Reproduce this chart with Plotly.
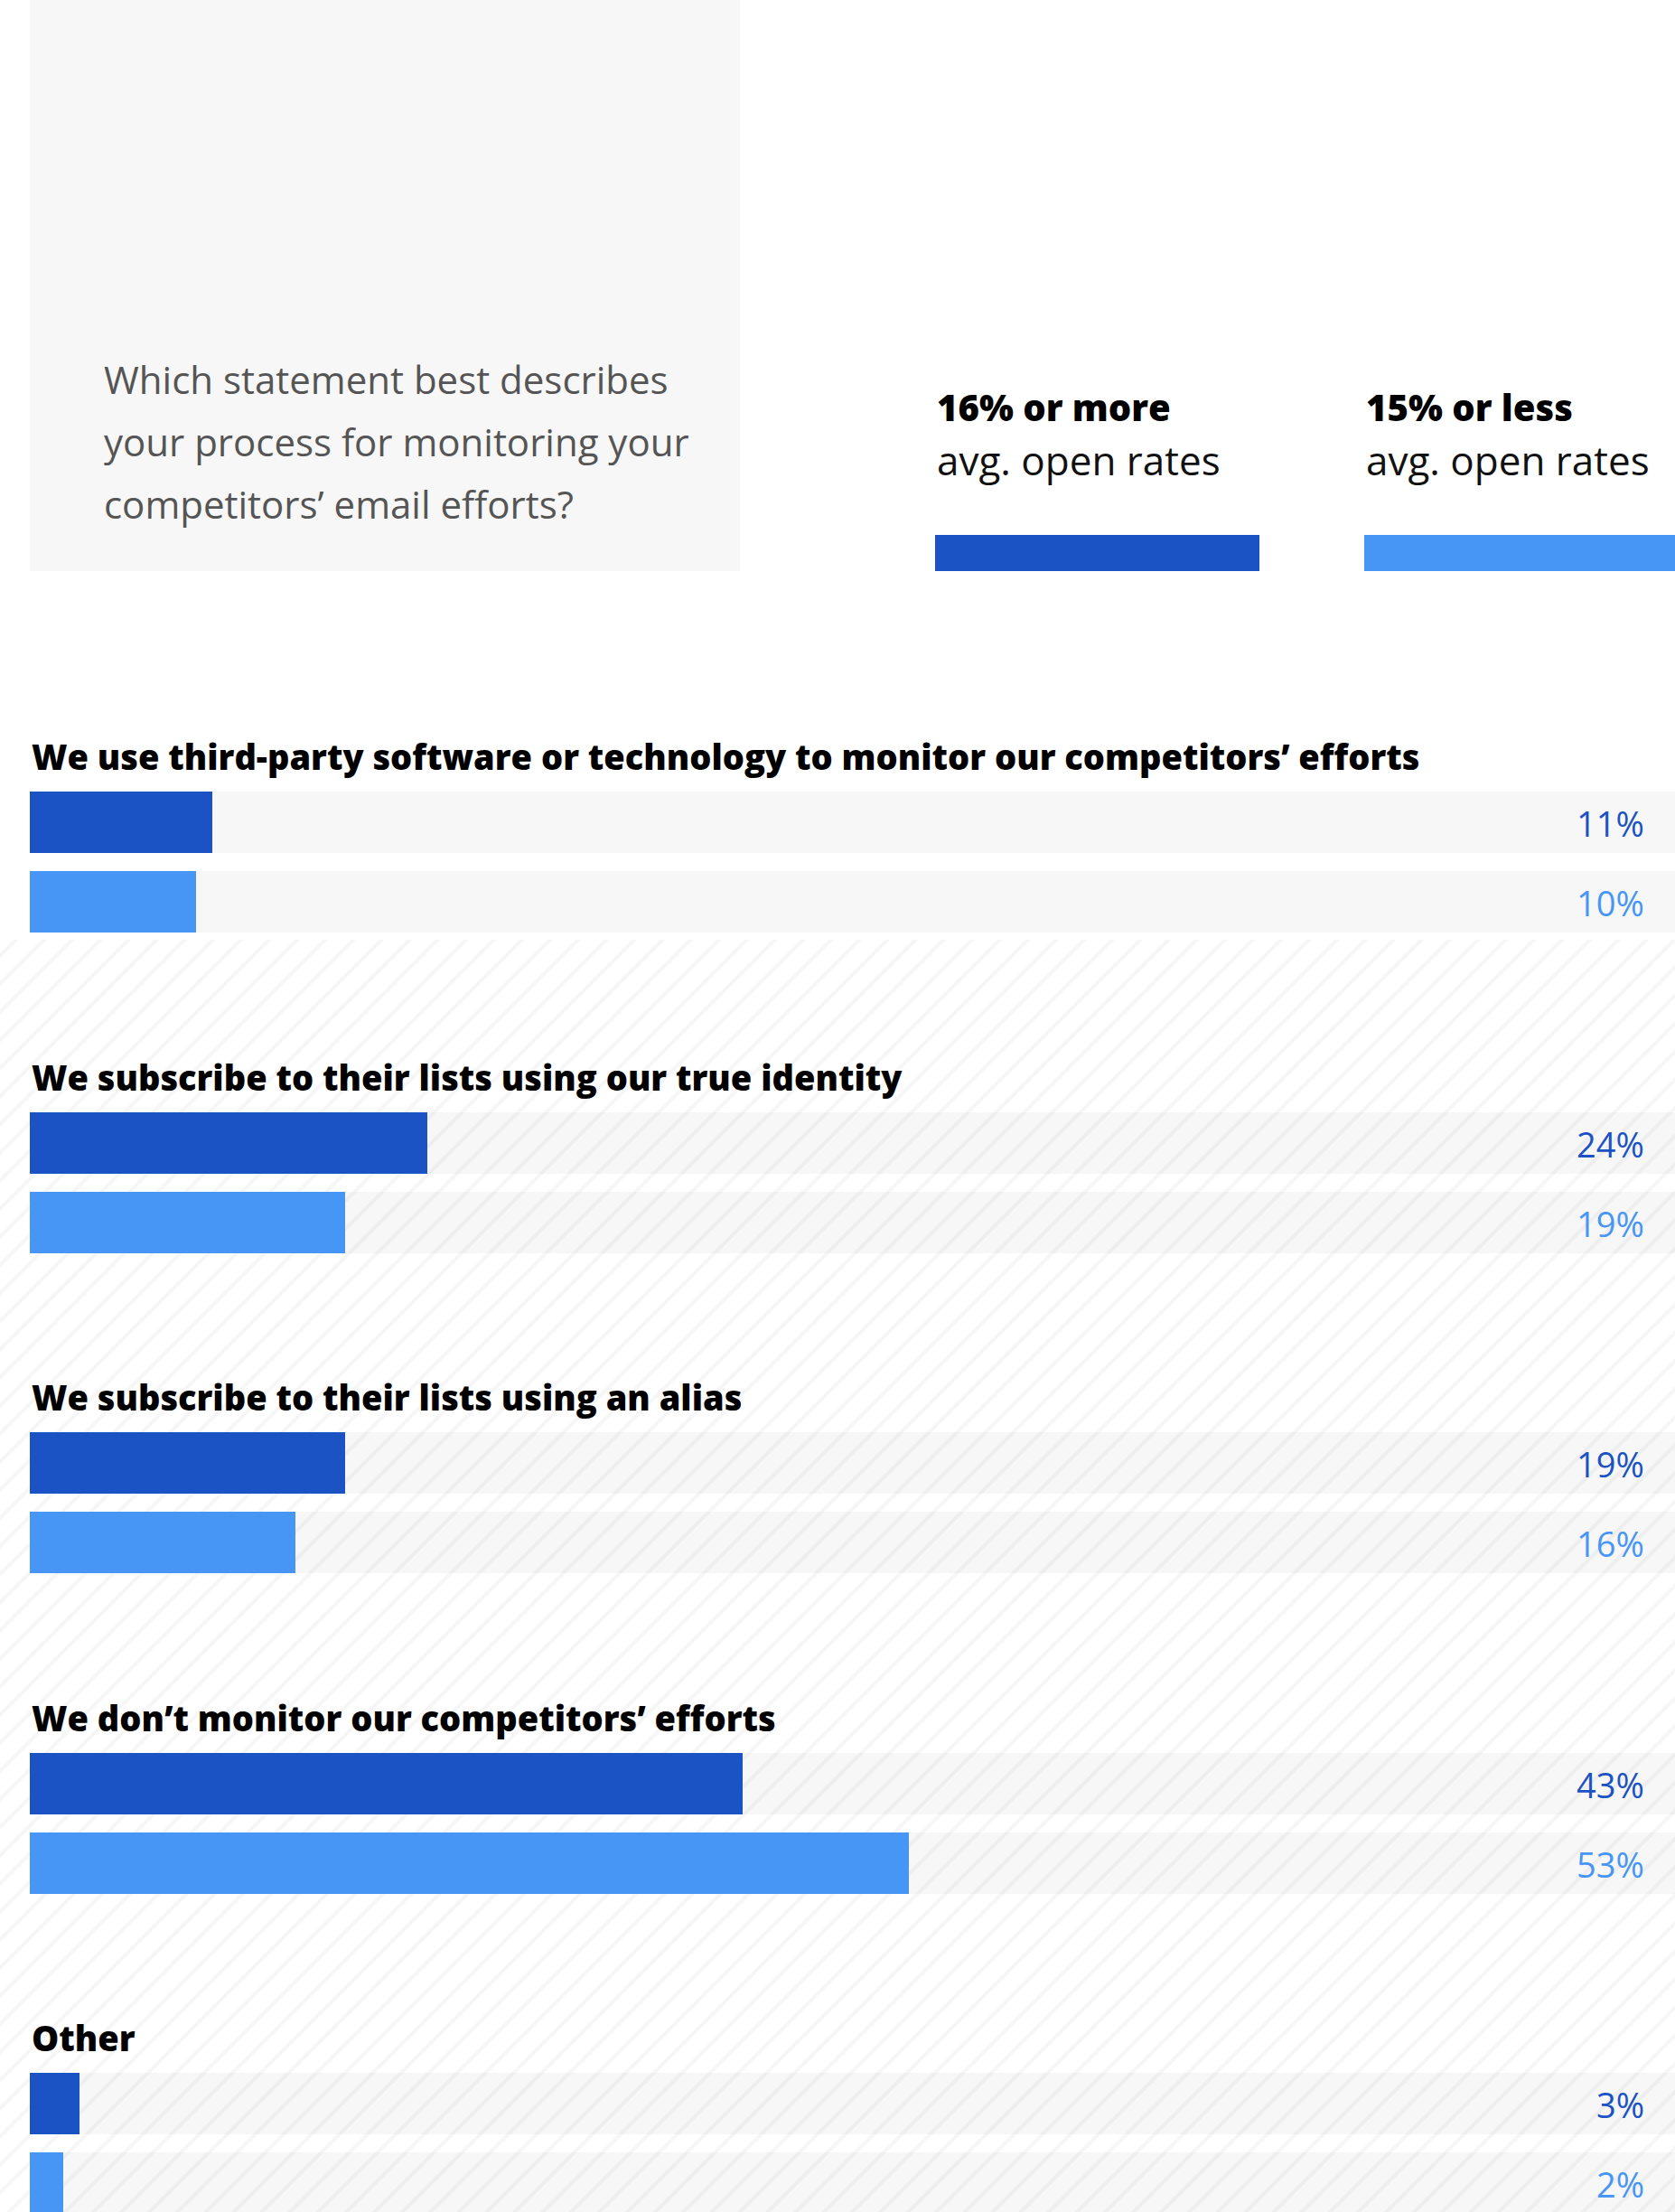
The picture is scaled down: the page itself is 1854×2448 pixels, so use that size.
import plotly.graph_objects as go

# ---- data -------------------------------------------------------------
categories = [
    "We use third-party software or technology to monitor our competitors’ efforts",
    "We subscribe to their lists using our true identity",
    "We subscribe to their lists using an alias",
    "We don’t monitor our competitors’ efforts",
    "Other",
]
high_open = [11, 24, 19, 43, 3]   # 16% or more avg. open rates
low_open = [10, 19, 16, 53, 2]    # 15% or less avg. open rates
series_names = ["16% or more", "15% or less"]
series_sub = "avg. open rates"
question_lines = [
    "Which statement best describes",
    "your process for monitoring your",
    "competitors’ email efforts?",
]

# ---- layout constants -------------------------------------------------
W, H = 1854, 2448
LEFT = 33                 # left edge of bars / titles (px)
PX_PER_PCT = 18.35        # horizontal scale, px per percentage point
FIRST_BAR = 910           # centre of the first bar (px from top)
STEP = 354.5              # distance between question groups
PAIR = 88                 # distance between the two bars of a group
BAR_H = 68
DARK = "#1b52c4"
LIGHT = "#4796f6"
TRACK = "rgba(0,0,0,0.032)"
FONT = "'Open Sans', Lato, sans-serif"
HATCH_TOP = 1040          # top of the striped backdrop (px)

X_MIN = -LEFT / PX_PER_PCT
X_MAX = (W - LEFT) / PX_PER_PCT


def px(x):
    return x / W


n = len(categories)
y_dark = [FIRST_BAR + i * STEP for i in range(n)]
y_light = [y + PAIR for y in y_dark]

fig = go.Figure()

# faint diagonal striped backdrop
fig.add_trace(go.Bar(
    x=[X_MAX - X_MIN], base=[X_MIN], y=[(HATCH_TOP + H) / 2],
    width=H - HATCH_TOP, orientation="h",
    marker=dict(color="rgba(0,0,0,0)", line_width=0,
                pattern=dict(shape="/", size=22, solidity=0.18,
                             fgcolor="#f6f6f6", bgcolor="rgba(0,0,0,0)",
                             fillmode="replace")),
    hoverinfo="skip", showlegend=False,
))
# grey tracks behind each bar
fig.add_trace(go.Bar(
    x=[100] * (2 * n), y=y_dark + y_light, orientation="h",
    width=BAR_H, marker=dict(color=TRACK, line_width=0),
    hoverinfo="skip", showlegend=False,
))
fig.add_trace(go.Bar(
    x=high_open, y=y_dark, orientation="h", width=BAR_H,
    marker=dict(color=DARK, line_width=0), name=series_names[0],
    showlegend=False,
))
fig.add_trace(go.Bar(
    x=low_open, y=y_light, orientation="h", width=BAR_H,
    marker=dict(color=LIGHT, line_width=0), name=series_names[1],
    showlegend=False,
))

annotations = []
# group titles
for cat, yd in zip(categories, y_dark):
    annotations.append(dict(
        x=px(LEFT), xref="paper", y=yd - 73, yref="y",
        xanchor="left", yanchor="middle", text=cat,
        showarrow=False,
        font=dict(family=FONT, size=38, color="#000000", weight=800),
    ))
# value labels
for vals, ys, col in ((high_open, y_dark, DARK), (low_open, y_light, LIGHT)):
    for v, yy in zip(vals, ys):
        annotations.append(dict(
            x=px(1822), xref="paper", y=yy + 1, yref="y",
            xanchor="right", yanchor="middle", text=f"{v}%",
            showarrow=False, font=dict(family=FONT, size=38, color=col),
        ))
# question block
for k, line in enumerate(question_lines):
    annotations.append(dict(
        x=px(113), xref="paper", y=419 + k * 69, yref="y",
        xanchor="left", yanchor="middle", text=line, showarrow=False,
        font=dict(family=FONT, size=42, color="#555555"),
    ))
# key
for xk, name in zip((1035, 1510), series_names):
    annotations.append(dict(
        x=px(xk), xref="paper", y=450, yref="y", xanchor="left",
        yanchor="middle", text=name, showarrow=False,
        font=dict(family=FONT, size=40, color="#000000", weight=800),
    ))
    annotations.append(dict(
        x=px(xk), xref="paper", y=509, yref="y", xanchor="left",
        yanchor="middle", text=series_sub, showarrow=False,
        font=dict(family=FONT, size=44, color="#111111"),
    ))

shapes = [
    dict(type="rect", xref="paper", yref="y", x0=px(LEFT), x1=px(819),
         y0=0, y1=632, fillcolor="#f7f7f7", line_width=0, layer="below"),
    dict(type="rect", xref="paper", yref="y", x0=px(1035), x1=px(1394),
         y0=592, y1=632, fillcolor=DARK, line_width=0),
    dict(type="rect", xref="paper", yref="y", x0=px(1510), x1=1,
         y0=592, y1=632, fillcolor=LIGHT, line_width=0),
]

fig.update_layout(
    width=W, height=H, margin=dict(l=0, r=0, t=0, b=0),
    paper_bgcolor="#ffffff", plot_bgcolor="rgba(0,0,0,0)",
    barmode="overlay", bargap=0,
    xaxis=dict(domain=[0, 1], range=[X_MIN, X_MAX],
               visible=False, fixedrange=True),
    yaxis=dict(domain=[0, 1], range=[H, 0], visible=False, fixedrange=True),
    annotations=annotations, shapes=shapes, showlegend=False,
)

fig.write_html("out.html")
